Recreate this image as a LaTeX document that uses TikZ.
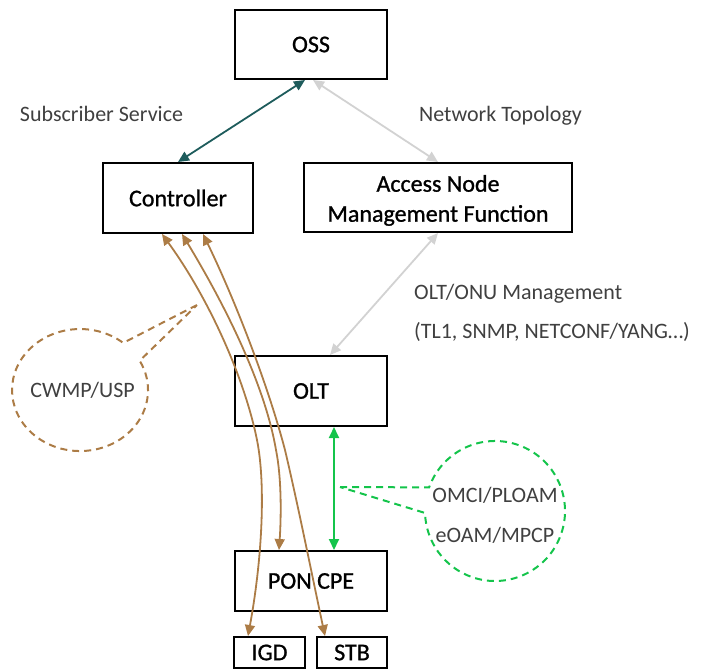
\documentclass[tikz,border=0pt]{standalone}
\usepackage{fontspec}
\setmainfont{Carlito}
\newfontfamily\boxfont[FakeBold=1.0]{Carlito}
\usetikzlibrary{arrows.meta}
\definecolor{tealc}{RGB}{30,92,92}
\definecolor{lgray}{RGB}{210,210,210}
\definecolor{brn}{RGB}{172,124,70}
\definecolor{grn}{RGB}{20,196,75}
\definecolor{txt}{RGB}{64,64,64}
\begin{document}
\begin{tikzpicture}[x=1pt,y=-1pt,
  box/.style={draw=black, line width=2pt, inner sep=0pt, align=center,
    font=\boxfont\fontsize{24}{30}\selectfont},
  lbl/.style={text=txt, inner sep=0pt, font=\fontsize{22}{26}\selectfont},
  conn/.style={line width=1.8pt,
    {Triangle[length=11pt,width=10pt]}-{Triangle[length=11pt,width=10pt]}},
  callout/.style={line width=2pt, dash pattern=on 7pt off 5pt},
]
\useasboundingbox (0,0) rectangle (704,670);

% boxes
\node[box, minimum width=152pt, minimum height=69pt] (oss) at (311,44.5) {OSS};
\node[box, minimum width=150pt, minimum height=70pt] (ctrl) at (178,198) {Controller};
\node[box, minimum width=268pt, minimum height=69pt, text height=48.4pt, text depth=0pt] (acc) at (438,197.5) {Access Node\\Management Function};
\node[box, minimum width=152pt, minimum height=70pt] (olt) at (311,391) {OLT};
\node[box, minimum width=152pt, minimum height=60pt] (pon) at (311,581) {PON CPE};
\node[box, minimum width=71pt, minimum height=31pt] (igd) at (269.5,652.5) {IGD};
\node[box, minimum width=70pt, minimum height=31pt] (stb) at (352,652.5) {STB};

% labels
\node[lbl, anchor=base] (ls) at (101.5,121) {Subscriber Service};
\node[lbl, anchor=base] (lt) at (500.5,121) {Network Topology};
\node[lbl, anchor=base west] (lm1) at (414,299) {OLT/ONU Management};
\node[lbl, anchor=base west] (lm2) at (414,338) {(TL1, SNMP, NETCONF/YANG…)};
\node[lbl, anchor=base] (lc) at (82.5,397) {CWMP/USP};
\node[lbl, anchor=base] (lo1) at (495,502) {OMCI/PLOAM};
\node[lbl, anchor=base] (lo2) at (495,542) {eOAM/MPCP};

% connectors
\draw[conn, tealc] ([xshift=-6pt]oss.south) -- (ctrl.north);
\draw[conn, lgray] ([xshift=2pt]oss.south) -- (acc.north);
\draw[conn, lgray] (acc.south) -- ([xshift=19pt]olt.north);
\draw[conn, grn] ([xshift=23pt]olt.south) -- ([xshift=23pt]pon.north);

\draw[conn, brn] ([xshift=-16pt]ctrl.south) .. controls (210,300) and (245,380) .. (257,440)
  .. controls (266,485) and (262,560) .. ([xshift=-21.5pt]igd.north);
\draw[conn, brn] ([xshift=4pt]ctrl.south) .. controls (225,305) and (265,385) .. (276,450)
  .. controls (282,480) and (281,520) .. ([xshift=-32pt]pon.north);
\draw[conn, brn] ([xshift=25pt]ctrl.south) .. controls (235,300) and (268,385) .. (285,450)
  .. controls (298,505) and (312,575) .. ([xshift=-27pt]stb.north);

% callouts
\coordinate (cwtip) at (197,305);
\draw[callout, brn] (cwtip) -- (123.2,342.9)
  arc[start angle=-50.6, end angle=-388.7, x radius=68, y radius=61] -- cycle;
\coordinate (gtip) at (340,487);
\draw[callout, grn] (gtip) -- (429.1,487.4)
  arc[start angle=199.7, end angle=538.4, radius=70] -- cycle;
\end{tikzpicture}
\end{document}
